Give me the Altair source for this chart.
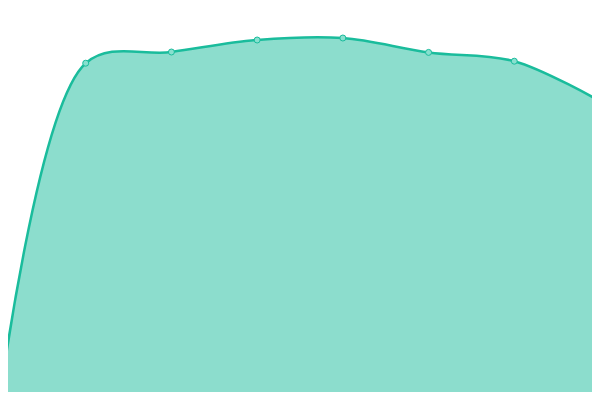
import altair as alt
import pandas as pd

idx = [0, 1, 2, 3, 4, 5, 6, 7]
values = [0.3, 84.2, 87.0, 90.0, 90.5, 86.9, 84.7, 74.7]

df = pd.DataFrame({"i": idx, "v": values})

x = alt.X("i:Q", axis=None, scale=alt.Scale(domain=[0, 7], nice=False, zero=False))
y = alt.Y("v:Q", axis=None, scale=alt.Scale(domain=[0, 100], nice=False))

base = alt.Chart(df)
area = base.mark_area(interpolate="catmull-rom", color="#1abc9c", opacity=0.5).encode(x=x, y=y)
line = base.mark_line(interpolate="catmull-rom", color="#1abc9c", strokeWidth=2.5).encode(x=x, y=y)
pts = base.mark_point(shape="circle", filled=True, size=36, fill="#88e0cf",
                      stroke="#1abc9c", strokeWidth=1, opacity=1).encode(x=x, y=y)

chart = alt.layer(area, line, pts).properties(
    width=600, height=400,
    autosize=alt.AutoSizeParams(type="none"),
    padding={"left": -8, "top": -8, "right": -8, "bottom": -8},
).configure_view(stroke=None)

chart.save("out.html", embed_options={"renderer": "svg", "actions": False})
